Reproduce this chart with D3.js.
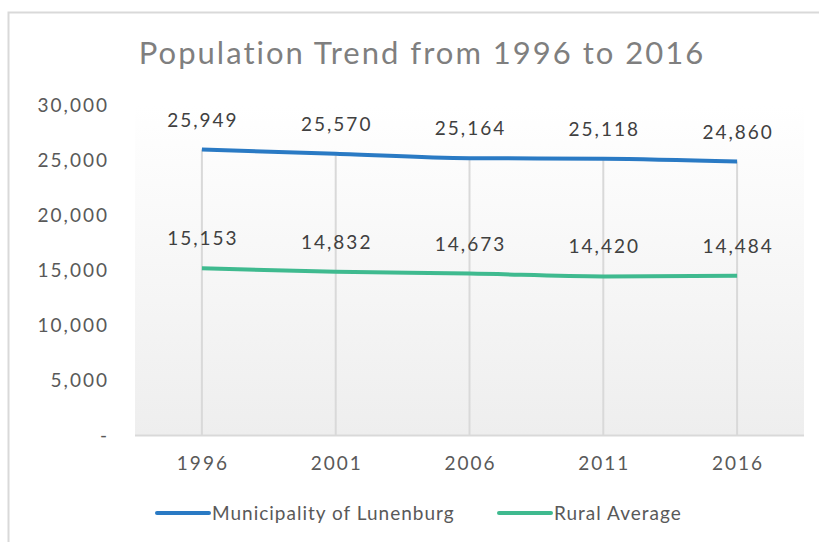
<!DOCTYPE html>
<html>
<head>
<meta charset="utf-8">
<script src="https://cdn.jsdelivr.net/npm/d3@7"></script>
<style>
  body { margin: 0; background: #fff; }
  svg { display: block; font-family: "Lato", "DejaVu Sans", sans-serif; }
</style>
</head>
<body>
<div id="chart"></div>
<script>
// DATA
const years = ["1996", "2001", "2006", "2011", "2016"];
const lunenburg = [25949, 25570, 25164, 25118, 24860];
const rural = [15153, 14832, 14673, 14420, 14484];
const yTicks = [0, 5000, 10000, 15000, 20000, 25000, 30000];

const series = [
  { name: "Municipality of Lunenburg", values: lunenburg, color: "#2a7ac4" },
  { name: "Rural Average", values: rural, color: "#3fba8f" }
];

const W = 819, H = 542;
const margin = { top: 105, right: 15, bottom: 107, left: 135 };
const width = W - margin.left - margin.right;
const height = H - margin.top - margin.bottom;

const svg = d3.select("#chart").append("svg")
  .attr("width", W)
  .attr("height", H);

// outer frame (only top and left edges visible)
svg.append("path")
  .attr("d", `M8.5,${H} V12.5 H${W}`)
  .attr("fill", "none")
  .attr("stroke", "#d9d9d9")
  .attr("stroke-width", 2);

const defs = svg.append("defs");
const grad = defs.append("linearGradient")
  .attr("id", "bg")
  .attr("x1", 0).attr("y1", 0).attr("x2", 0).attr("y2", 1);
grad.append("stop").attr("offset", "0%").attr("stop-color", "#ffffff");
grad.append("stop").attr("offset", "100%").attr("stop-color", "#eeeeee");

// Title
svg.append("text")
  .attr("x", 422)
  .attr("y", 64)
  .attr("text-anchor", "middle")
  .attr("font-size", 31)
  .attr("letter-spacing", 2)
  .attr("fill", "#7f7f7f")
  .text("Population Trend from 1996 to 2016");

const g = svg.append("g")
  .attr("transform", `translate(${margin.left},${margin.top})`);

// SCALES
const x = d3.scaleBand().domain(years).range([0, width]);
const y = d3.scaleLinear().domain([0, 30000]).range([height, 0]);
const cx = d => x(d) + x.bandwidth() / 2;

g.append("rect")
  .attr("width", width)
  .attr("height", height)
  .attr("fill", "url(#bg)");

// Drop lines
g.selectAll(".drop")
  .data(years)
  .enter()
  .append("line")
  .attr("class", "drop")
  .attr("x1", d => cx(d))
  .attr("x2", d => cx(d))
  .attr("y1", (d, i) => y(d3.max(series, s => s.values[i])))
  .attr("y2", height)
  .attr("stroke", "#d9d9d9")
  .attr("stroke-width", 2);

// X axis line
g.append("line")
  .attr("x1", 0).attr("x2", width)
  .attr("y1", height + 0.5).attr("y2", height + 0.5)
  .attr("stroke", "#d9d9d9")
  .attr("stroke-width", 2);

// Y tick labels
g.selectAll(".ytick")
  .data(yTicks)
  .enter()
  .append("text")
  .attr("class", "ytick")
  .attr("x", -26)
  .attr("y", d => y(d))
  .attr("dy", "0.35em")
  .attr("text-anchor", "end")
  .attr("font-size", 19)
  .attr("letter-spacing", 2)
  .attr("fill", "#595959")
  .text(d => (d === 0 ? "-" : d3.format(",")(d)));

// X tick labels
g.selectAll(".xtick")
  .data(years)
  .enter()
  .append("text")
  .attr("class", "xtick")
  .attr("x", d => cx(d) + 1)
  .attr("y", height + 35)
  .attr("text-anchor", "middle")
  .attr("font-size", 19)
  .attr("letter-spacing", 2)
  .attr("fill", "#595959")
  .text(d => d);

// LINES
const line = d3.line()
  .curve(d3.curveMonotoneX)
  .x((d, i) => cx(years[i]))
  .y(d => y(d));

g.selectAll(".line")
  .data(series)
  .enter()
  .append("path")
  .attr("class", "line")
  .attr("d", d => line(d.values))
  .attr("fill", "none")
  .attr("stroke", d => d.color)
  .attr("stroke-width", 4)
  .attr("stroke-linecap", "butt");

// Data labels
series.forEach(s => {
  g.selectAll(null)
    .data(s.values)
    .enter()
    .append("text")
    .attr("x", (d, i) => cx(years[i]) + 1)
    .attr("y", d => y(d) - 23)
    .attr("text-anchor", "middle")
    .attr("font-size", 19)
    .attr("letter-spacing", 2)
    .attr("fill", "#404040")
    .text(d => d3.format(",")(d));
});

// LEGEND
const legendItems = [
  { x: 155, s: series[0] },
  { x: 497, s: series[1] }
];
const legend = svg.selectAll(".legend")
  .data(legendItems)
  .enter()
  .append("g")
  .attr("class", "legend")
  .attr("transform", d => `translate(${d.x},513)`);

legend.append("line")
  .attr("x1", 2).attr("x2", 54)
  .attr("stroke", d => d.s.color)
  .attr("stroke-width", 4)
  .attr("stroke-linecap", "round");

legend.append("text")
  .attr("x", 57)
  .attr("dy", "0.35em")
  .attr("font-size", 19)
  .attr("letter-spacing", 1)
  .attr("fill", "#595959")
  .text(d => d.s.name);
</script>
</body>
</html>
